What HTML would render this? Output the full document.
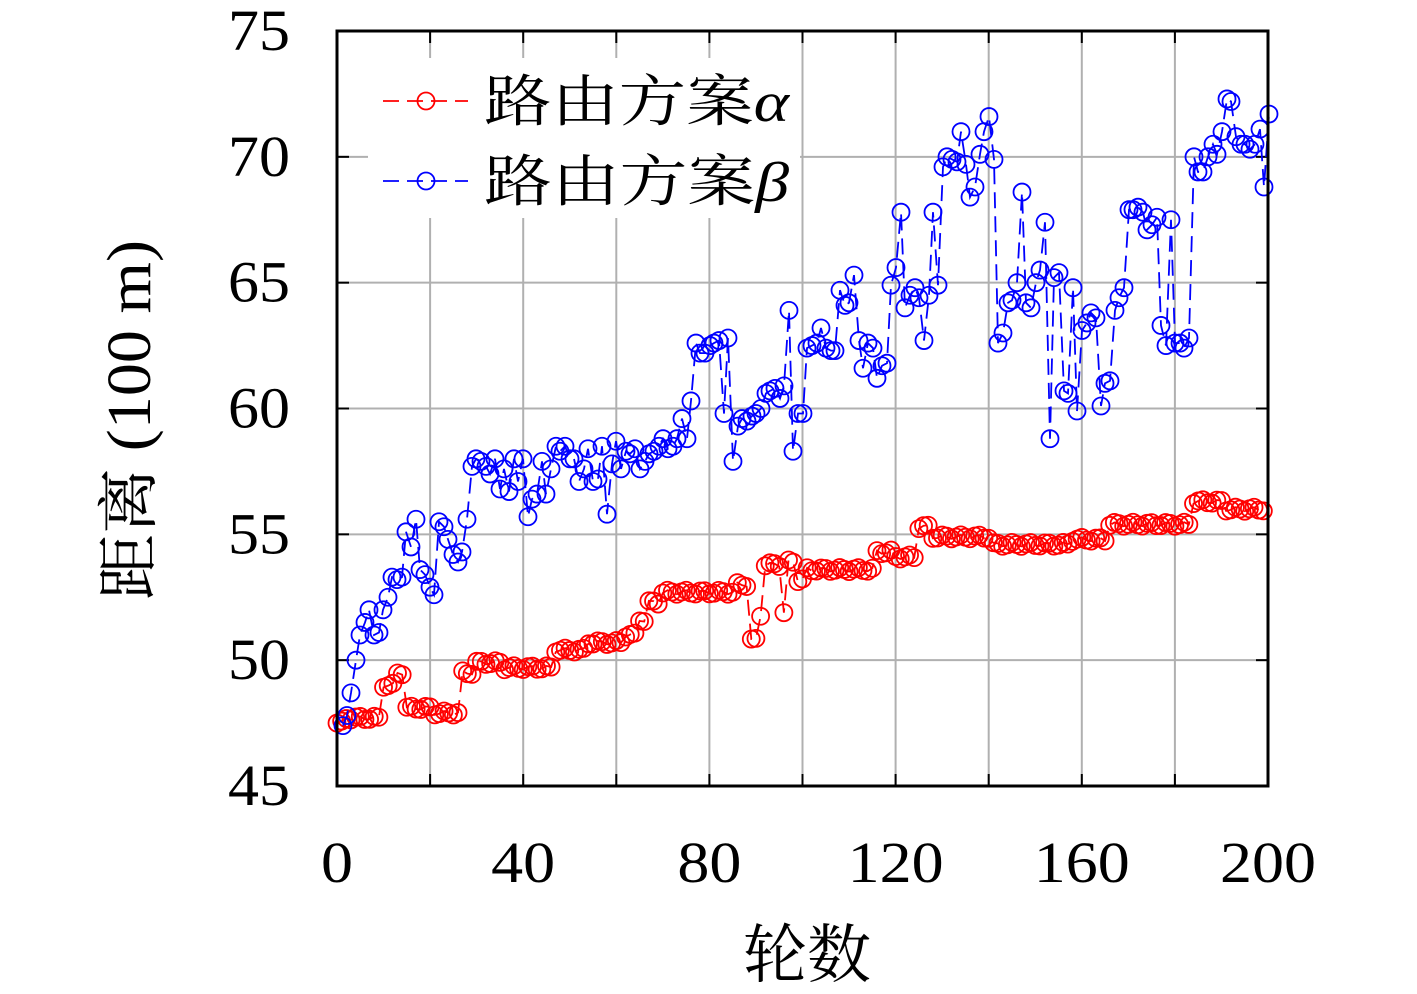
<!DOCTYPE html>
<html><head><meta charset="utf-8"><style>
html,body{margin:0;padding:0;background:#fff;}
svg{display:block;font-family:"Liberation Serif","Noto Serif CJK SC",serif;}
</style></head><body>
<svg id="s" width="1417" height="994" xmlns="http://www.w3.org/2000/svg"></svg>
<script>
const s=document.getElementById('s');
const X0=337,X1=1268,Y0=786,Y1=31;
const xp=i=>X0+i*(X1-X0)/200, yp=v=>Y0-(v-45)*(Y0-Y1)/30;
let h='';
for(let i=0;i<=200;i+=20){const x=xp(i);h+=`<line x1="${x}" y1="${Y1}" x2="${x}" y2="${Y0}" stroke="#b0b0b0" stroke-width="2"/>`;}
for(let v=45;v<=75;v+=5){const y=yp(v);h+=`<line x1="${X0}" y1="${y}" x2="${X1}" y2="${y}" stroke="#b0b0b0" stroke-width="2"/>`;}
for(let i=0;i<=200;i+=20){const x=xp(i);h+=`<line x1="${x}" y1="${Y0}" x2="${x}" y2="${Y0-12}" stroke="#000" stroke-width="2"/><line x1="${x}" y1="${Y1}" x2="${x}" y2="${Y1+12}" stroke="#000" stroke-width="2"/>`;}
for(let v=45;v<=75;v+=5){const y=yp(v);h+=`<line x1="${X0}" y1="${y}" x2="${X0+12}" y2="${y}" stroke="#000" stroke-width="2"/><line x1="${X1}" y1="${y}" x2="${X1-12}" y2="${y}" stroke="#000" stroke-width="2"/>`;}
for(let i=0;i<=200;i+=40){const t=String(i);h+=`<text x="${xp(i)}" y="882" font-size="58" text-anchor="middle" textLength="${t.length*32}" lengthAdjust="spacingAndGlyphs">${t}</text>`;}
for(let v=45;v<=75;v+=5){h+=`<text x="290" y="${yp(v)+19}" font-size="58" text-anchor="end" textLength="62" lengthAdjust="spacingAndGlyphs">${v}</text>`;}
h+=`<text x="807" y="977" font-size="64" text-anchor="middle">轮数</text>`;
h+=`<text transform="translate(150,420) rotate(-90)" font-size="62" text-anchor="middle" textLength="360" lengthAdjust="spacingAndGlyphs">距离 (100 m)</text>`;
const rs=[[0,1,47.5],[2,9,47.7],[10,12,49],[13,14,49.5],[15,20,48.1],[21,26,47.9],[27,29,49.5],[30,35,49.9],[36,46,49.7],[47,53,50.4],[54,61,50.7],[62,64,51],[65,66,51.6],[67,69,52.3],[70,85,52.7],[86,88,53],[89,90,50.8],[91,91,51.8],[92,95,53.8],[96,96,51.9],[97,98,53.9],[99,100,53.2],[101,115,53.6],[116,119,54.3],[120,124,54.1],[125,127,55.3],[128,140,54.9],[141,157,54.6],[158,165,54.8],[166,183,55.4],[184,190,56.3],[191,199,56.0]];
const red=[];rs.forEach(([a,b,v])=>{for(let i=a;i<=b;i++)red.push([xp(i),yp(v+Math.sin(i*1.7)*0.08)]);});
const bt="343,47.4;347,47.8;351,48.7;356,50;360,51;365,51.5;369,52;374,51;379,51.1;383,52;388,52.5;392,53.3;397,53.2;402,53.3;406,55.1;411,54.5;416,55.6;420,53.6;425,53.4;430,52.9;434,52.6;439,55.5;444,55.3;448,54.8;453,54.2;458,53.9;462,54.3;467,55.6;472,57.7;476,58;481,57.9;486,57.7;490,57.4;495,58;500,56.8;504,57.6;509,56.7;514,58;518,57.1;523,58;528,55.7;532,56.4;537,56.6;542,57.9;546,56.6;551,57.6;556,58.5;560,58.3;565,58.5;570,58;574,58;579,57.1;584,57.6;588,58.4;593,57.1;598,57.2;602,58.5;607,55.8;612,57.8;616,58.7;621,57.6;626,58.3;630,58.2;635,58.4;640,57.6;645,57.9;649,58.2;654,58.3;659,58.5;663,58.8;668,58.4;673,58.5;677,58.8;682,59.6;687,58.8;691,60.3;696,62.6;700,62.2;705,62.2;710,62.5;714,62.6;719,62.7;724,59.8;728,62.8;733,57.9;738,59.3;742,59.6;747,59.5;752,59.7;756,59.8;761,60;766,60.6;770,60.7;775,60.8;780,60.4;784,60.9;789,63.9;793,58.3;798,59.8;803,59.8;807,62.4;812,62.5;817,62.6;821,63.2;826,62.4;831,62.3;835,62.3;840,64.7;845,64.1;849,64.2;854,65.3;859,62.7;863,61.6;868,62.6;873,62.4;877,61.2;882,61.7;887,61.8;891,64.9;896,65.6;901,67.8;905,64;910,64.5;915,64.8;919,64.4;924,62.7;929,64.5;933,67.8;938,64.9;943,69.6;947,70;952,69.9;957,69.8;961,71;966,69.7;970,68.4;975,68.8;980,70.1;984,71;989,71.6;994,69.9;998,62.6;1003,63;1008,64.2;1012,64.3;1017,65;1022,68.6;1026,64.2;1031,64;1036,65;1040,65.5;1045,67.4;1050,58.8;1054,65.2;1059,65.4;1064,60.7;1068,60.6;1073,64.8;1077,59.9;1082,63.1;1087,63.4;1091,63.8;1096,63.6;1101,60.1;1105,61;1110,61.1;1115,63.9;1119,64.4;1124,64.8;1129,67.9;1133,67.9;1138,68;1143,67.8;1147,67.1;1152,67.3;1157,67.6;1161,63.3;1166,62.5;1171,67.5;1175,62.6;1180,62.6;1184,62.4;1189,62.8;1194,70;1198,69.4;1203,69.4;1208,70;1213,70.5;1217,70.1;1222,71;1227,72.3;1231,72.2;1236,70.8;1241,70.5;1245,70.5;1250,70.3;1255,70.5;1260,71.1;1264,68.8;1269,71.7";
const blue=bt.split(';').map(p=>{const[a,b]=p.split(',').map(Number);return[a,yp(b)];});
function series(pts,c){let o=`<polyline points="${pts.map(p=>p.join(',')).join(' ')}" fill="none" stroke="${c}" stroke-width="1.8" stroke-dasharray="16,8"/>`;
pts.forEach(p=>{o+=`<circle cx="${p[0]}" cy="${p[1]}" r="8.5" fill="none" stroke="${c}" stroke-width="1.8"/>`;});return o;}
h+=series(red,'#f00');h+=series(blue,'#00f');
h+=`<rect x="${X0}" y="${Y1}" width="${X1-X0}" height="${Y0-Y1}" fill="none" stroke="#000" stroke-width="3"/>`;
h+=`<rect x="368" y="58" width="432" height="160" fill="#fff"/>`;
h+=`<line x1="383" y1="101" x2="468" y2="101" stroke="#f00" stroke-width="1.8" stroke-dasharray="16,8"/><circle cx="426" cy="101" r="8.5" fill="none" stroke="#f00" stroke-width="1.8"/>`;
h+=`<line x1="383" y1="181" x2="468" y2="181" stroke="#00f" stroke-width="1.8" stroke-dasharray="16,8"/><circle cx="426" cy="181" r="8.5" fill="none" stroke="#00f" stroke-width="1.8"/>`;
h+=`<text x="484" y="121" font-size="56" textLength="305" lengthAdjust="spacingAndGlyphs">路由方案<tspan font-style="italic">α</tspan></text>`;
h+=`<text x="484" y="201" font-size="56" textLength="305" lengthAdjust="spacingAndGlyphs">路由方案<tspan font-style="italic">β</tspan></text>`;
s.innerHTML=h;
</script>
</body></html>
